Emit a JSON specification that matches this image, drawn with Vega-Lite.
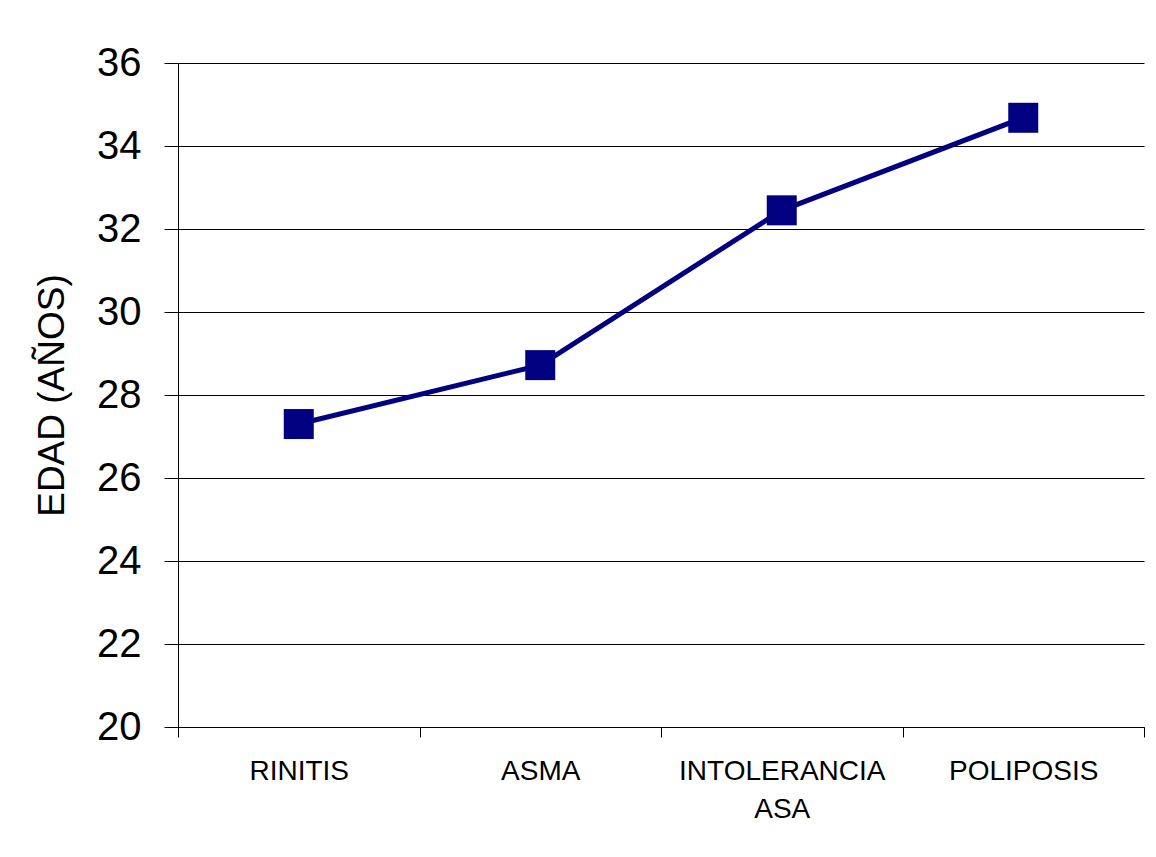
{
  "$schema": "https://vega.github.io/schema/vega-lite/v6.json",
  "width": 966,
  "height": 664,
  "autosize": {"type": "none"},
  "padding": {"left": 178, "top": 63, "right": 12, "bottom": 130},
  "background": "white",
  "config": {
    "view": {"stroke": null},
    "font": "Liberation Sans",
    "axis": {
      "domainColor": "black",
      "tickColor": "black",
      "gridColor": "black",
      "gridOpacity": 1,
      "labelColor": "black",
      "titleColor": "black",
      "labelFont": "Liberation Sans",
      "titleFont": "Liberation Sans",
      "titleFontWeight": "normal"
    }
  },
  "data": {
    "values": [
      {"grupo": "RINITIS", "edad": 27.3},
      {"grupo": "ASMA", "edad": 28.72},
      {"grupo": "INTOLERANCIA ASA", "edad": 32.45},
      {"grupo": "POLIPOSIS", "edad": 34.68}
    ]
  },
  "encoding": {
    "x": {
      "field": "grupo",
      "type": "nominal",
      "sort": null,
      "scale": {"type": "band", "paddingInner": 0, "paddingOuter": 0},
      "axis": {
        "title": null,
        "labelAngle": 0,
        "labelFontSize": 28,
        "labelLimit": 0,
        "labelPadding": 20,
        "labelLineHeight": 38,
        "tickBand": "extent",
        "tickSize": 10,
        "grid": false,
        "labelExpr": "datum.value == 'INTOLERANCIA ASA' ? ['INTOLERANCIA', 'ASA'] : datum.value"
      }
    },
    "y": {
      "field": "edad",
      "type": "quantitative",
      "scale": {"domain": [20, 36], "zero": false, "nice": false},
      "axis": {
        "title": "EDAD (AÑOS)",
        "values": [20, 22, 24, 26, 28, 30, 32, 34, 36],
        "labelFontSize": 40,
        "titleFontSize": 37,
        "tickSize": 14,
        "labelPadding": 23,
        "titlePadding": 25,
        "grid": true
      }
    }
  },
  "layer": [
    {"mark": {"type": "line", "color": "#000080", "strokeWidth": 5}},
    {"mark": {"type": "square", "color": "#000080", "opacity": 1, "filled": true, "size": 900}}
  ]
}
